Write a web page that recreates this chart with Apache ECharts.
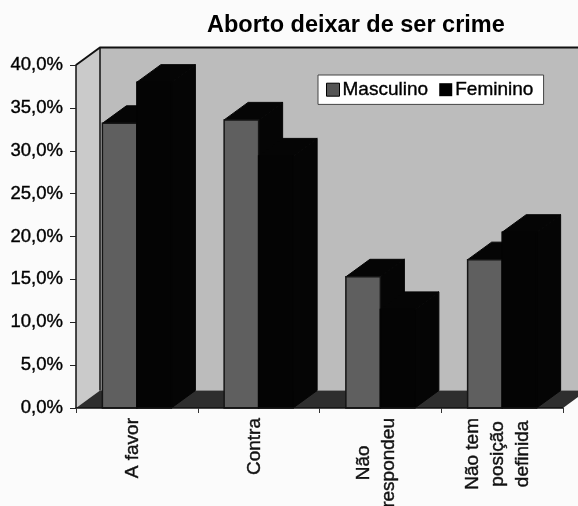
<!DOCTYPE html>
<html><head><meta charset="utf-8"><style>html,body{margin:0;padding:0;background:#fbfbfb}</style>
<script src="https://cdn.jsdelivr.net/npm/echarts@6/dist/echarts.min.js"></script></head>
<body><div id="c" style="width:578px;height:506px"></div>
<script>
const categories = ['A favor', 'Contra', 'Não\nrespondeu', 'Não tem\nposição\ndefinida'];
const masculino = [33.2, 33.6, 15.3, 17.3];
const feminino = [38.0, 29.4, 11.5, 20.5];
const yTicks = [0, 5, 10, 15, 20, 25, 30, 35, 40];

const DX = 24, DY = -17.5, BAR = 34.5;
const FONT = '"Liberation Sans", Arial, sans-serif';
const HEAVY = { textBorderColor: '#111', textBorderWidth: 0.4 };

function poly(points, fill, stroke, lw) {
  return { type: 'polygon', shape: { points }, style: { fill, stroke: stroke || fill, lineWidth: lw === undefined ? 1 : lw } };
}
function bar(offset, front, strokeFront) {
  return function (params, api) {
    const top = api.coord([api.value(0), api.value(1)]);
    const base = api.coord([api.value(0), 0]);
    const l = top[0] + offset * BAR, r = l + BAR;
    return { type: 'group', children: [
      poly([[l, top[1]], [r, top[1]], [r + DX, top[1] + DY], [l + DX, top[1] + DY]], '#050505'),
      poly([[r, top[1]], [r + DX, top[1] + DY], [r + DX, base[1] + DY], [r, base[1]]], '#050505'),
      poly([[l, top[1]], [r, top[1]], [r, base[1]], [l, base[1]]], front, strokeFront, 1.5)
    ] };
  };
}
function walls(params, api) {
  const cs = params.coordSys;
  const l = cs.x, r = cs.x + cs.width, t = cs.y, b = cs.y + cs.height;
  return { type: 'group', children: [
    poly([[l + DX, t + DY], [r + DX, t + DY], [r + DX, b + DY], [l + DX, b + DY]], '#bcbcbc', 'none', 0),
    poly([[l, t], [l + DX, t + DY], [l + DX, b + DY], [l, b]], '#cacaca', 'none', 0),
    poly([[l, b], [l + DX, b + DY], [r + DX, b + DY], [r, b]], '#2e2e2e', 'none', 0),
    { type: 'polyline', shape: { points: [[l, t], [l + DX, t + DY], [r + DX, t + DY]] }, style: { fill: 'none', stroke: '#111', lineWidth: 1.8 } },
    { type: 'line', shape: { x1: l + DX, y1: t + DY, x2: l + DX, y2: b + DY }, style: { stroke: '#111', lineWidth: 1.5 } }
  ] };
}
const rows = a => a.map((v, i) => [i, v]);
const chart = echarts.init(document.getElementById('c'));
chart.setOption({
  animation: false,
  backgroundColor: '#fbfbfb',
  title: { text: 'Aborto deixar de ser crime', left: 207, top: 14, padding: 0,
    textStyle: { fontFamily: FONT, fontWeight: 'bold', fontSize: 23.5, color: '#000' } },
  legend: { left: 318, top: 75, padding: [5, 10, 5, 8], itemGap: 11, itemWidth: 13, itemHeight: 13,
    backgroundColor: '#fff', borderColor: '#444', borderWidth: 1,
    data: [{ name: 'Masculino', icon: 'rect', itemStyle: { color: '#555', borderColor: '#000', borderWidth: 1 } },
           { name: 'Feminino', icon: 'rect', itemStyle: { color: '#000' } }],
    textStyle: { fontFamily: FONT, fontSize: 19, color: '#000', padding: [0, 0, 0, -2], ...HEAVY } },
  grid: { left: 76, right: 15, top: 65, bottom: 98, containLabel: false, outerBoundsMode: 'none' },
  xAxis: { type: 'category', data: categories, z: 5,
    axisLine: { show: true, lineStyle: { color: '#111', width: 1.5 } },
    axisTick: { show: true, length: 5, lineStyle: { color: '#333' } },
    axisLabel: { interval: 0, rotate: 90, margin: 10, lineHeight: 25, padding: [0, 0, 8, 0],
      formatter: v => v.split('\n').map(s => '{c|' + s + '}').join('\n'),
      rich: { c: { align: 'center', fontFamily: FONT, fontSize: 19, color: '#111', lineHeight: 25, ...HEAVY } } } },
  yAxis: { type: 'value', min: 0, max: 40, interval: 5, z: 5,
    splitLine: { show: false },
    axisLine: { show: true, lineStyle: { color: '#111', width: 1.5 } },
    axisTick: { show: true, length: 6, lineStyle: { color: '#222' } },
    axisLabel: { margin: 13, fontFamily: FONT, fontSize: 18.5, color: '#000', ...HEAVY,
      customValues: yTicks,
      formatter: v => v.toFixed(1).replace('.', ',') + '%' } },
  series: [
    { type: 'custom', name: 'walls', silent: true, clip: false, z: 1, renderItem: walls, data: [[0, 0]], encode: { x: 0, y: 1 } },
    { type: 'custom', name: 'Masculino', clip: false, z: 2, renderItem: bar(-1, '#5f5f5f', '#151515'), data: rows(masculino), encode: { x: 0, y: 1 }, itemStyle: { color: '#555' } },
    { type: 'custom', name: 'Feminino', clip: false, z: 3, renderItem: bar(0, '#040404', '#040404'), data: rows(feminino), encode: { x: 0, y: 1 }, itemStyle: { color: '#000' } }
  ]
});
</script></body></html>
